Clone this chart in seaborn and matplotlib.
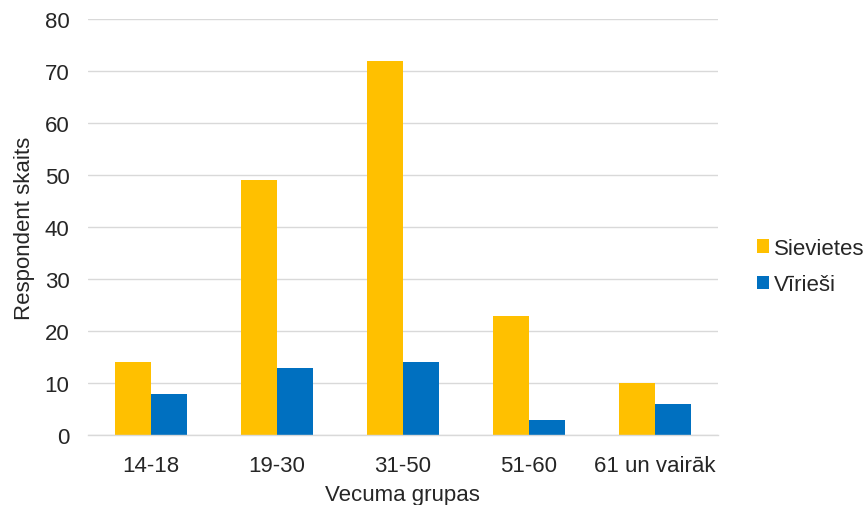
import matplotlib
matplotlib.use("Agg")
import matplotlib.pyplot as plt
import seaborn as sns
import pandas as pd
from matplotlib.patches import Patch

categories = ["14-18", "19-30", "31-50", "51-60", "61 un vairāk"]
sievietes = [14, 49, 72, 23, 10]
viriesi = [8, 13, 14, 3, 6]
series_names = ["Sievietes", "Vīrieši"]
colors = ["#FFC000", "#0070C0"]

df = pd.DataFrame({
    "grupa": categories * 2,
    "skaits": sievietes + viriesi,
    "dzimums": [series_names[0]] * len(categories) + [series_names[1]] * len(categories),
})

sns.set_theme(style="white")
plt.rcParams["font.family"] = ["Liberation Sans", "DejaVu Sans"]

fig = plt.figure(figsize=(8.67, 5.06), dpi=100)
ax = fig.add_axes([0.101, 0.138, 0.727, 0.822])

sns.barplot(data=df, x="grupa", y="skaits", hue="dzimums", palette=colors,
            width=0.57, ax=ax, legend=False, saturation=1, linewidth=0)

txt = "#262626"
ax.set_ylim(0, 80)
ax.set_xlim(-0.5, 4.5)
ax.set_yticks(range(0, 81, 10))
ax.yaxis.grid(True, color="#D9D9D9", linewidth=1)
ax.set_axisbelow(True)
for s in ["left", "right", "top"]:
    ax.spines[s].set_visible(False)
ax.spines["bottom"].set_color("#D9D9D9")
ax.spines["bottom"].set_linewidth(1)
ax.tick_params(axis="both", length=0, labelsize=16, colors=txt)
ax.tick_params(axis="y", pad=13)
ax.tick_params(axis="x", pad=14)
ax.set_xlabel("Vecuma grupas", fontsize=16, color=txt, labelpad=6)
ax.set_ylabel("Respondent skaits", fontsize=16, color=txt, labelpad=7)

handles = [Patch(facecolor=c, edgecolor="none") for c in colors]
fig.legend(handles, series_names, loc="center left", bbox_to_anchor=(0.850, 0.471),
           frameon=False, fontsize=16, handlelength=0.55, handleheight=0.55,
           handletextpad=0.2, labelspacing=0.7)

fig.savefig("out.png", dpi=100)
